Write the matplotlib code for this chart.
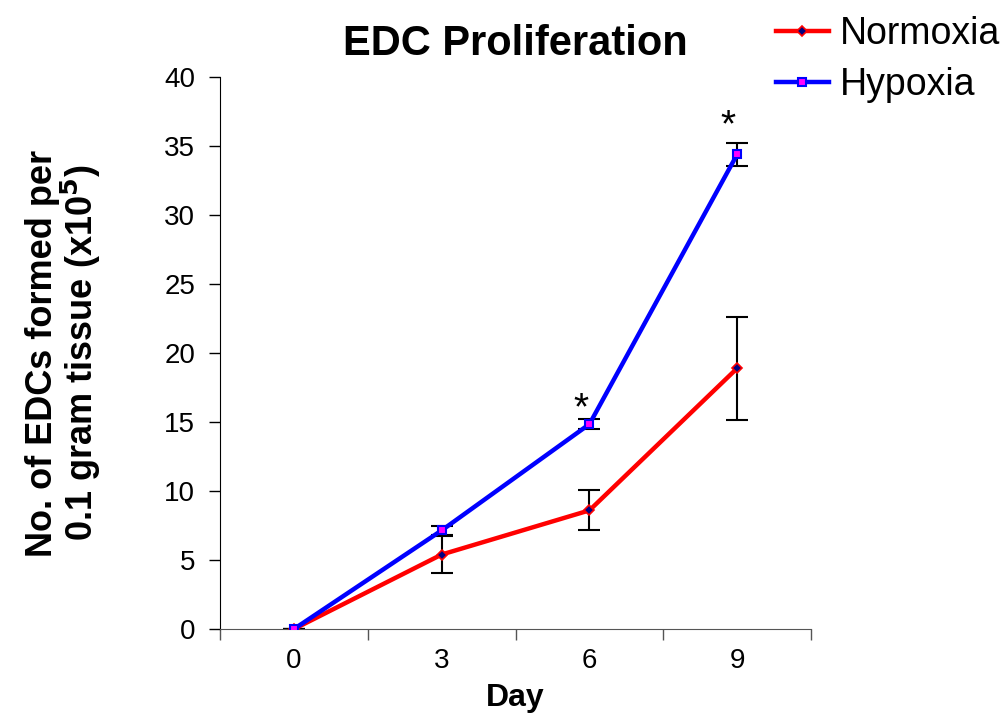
import numpy as np
import matplotlib.pyplot as plt

days = ["0", "3", "6", "9"]
normoxia = [0.0, 5.4, 8.6, 18.9]
normoxia_err = [0.0, 1.35, 1.45, 3.75]
hypoxia = [0.0, 7.15, 14.85, 34.4]
hypoxia_err = [0.0, 0.35, 0.35, 0.85]
star_days = [2, 3]  # index of days marked significant
star_y = [14.6, 35.1]

plt.rcParams['font.family'] = ['Liberation Sans', 'DejaVu Sans']

fig = plt.figure(figsize=(10.05, 7.14), dpi=100)
ax = fig.add_axes([0.219, 0.119, 0.588, 0.773])

x = np.arange(len(days))

# error bars first, lines on top
ax.errorbar(x, normoxia, yerr=normoxia_err, fmt='none', ecolor='black',
            elinewidth=1.5, capsize=8, capthick=1.5, zorder=2)
ax.errorbar(x, hypoxia, yerr=hypoxia_err, fmt='none', ecolor='black',
            elinewidth=1.5, capsize=8, capthick=1.5, zorder=2)

ax.plot(x, normoxia, color='red', lw=3.2, marker='D', markersize=5,
        markerfacecolor='navy', markeredgecolor='red', markeredgewidth=1.2,
        label='Normoxia', zorder=3)
ax.plot(x, hypoxia, color='blue', lw=3.2, marker='s', markersize=6,
        markerfacecolor='magenta', markeredgecolor='blue', markeredgewidth=1.5,
        label='Hypoxia', zorder=4)

for i, sy in zip(star_days, star_y):
    ax.text(x[i] - 0.06, sy, '*', ha='center', va='bottom', fontsize=28)

ax.set_xlim(-0.5, 3.5)
ax.set_ylim(0, 40)
ax.set_yticks(np.arange(0, 41, 5))
ax.set_xticks(x)
ax.set_xticklabels(days)
ax.set_xticks(np.arange(-0.5, 3.6, 1), minor=True)
ax.tick_params(axis='x', which='major', length=0, labelsize=20, pad=14)
ax.tick_params(axis='x', which='minor', length=8, width=1, color='#555555')
ax.tick_params(axis='y', length=8, width=1, labelsize=20, pad=10)

ax.spines['top'].set_visible(False)
ax.spines['right'].set_visible(False)
ax.spines['bottom'].set_color('#555555')

ax.set_title('EDC Proliferation', fontsize=30, fontweight='bold', pad=16)
ax.set_xlabel('Day', fontsize=23, fontweight='bold', labelpad=6)
ax.set_ylabel('No. of EDCs formed per\n0.1 gram tissue (x10$^{\\mathbf{5}}$)',
              fontsize=26, fontweight='bold', labelpad=44, linespacing=0.95)

fig.legend(loc='upper right', bbox_to_anchor=(1000 / 1005, 0.978), frameon=False,
           fontsize=27, handlelength=1.4, handletextpad=0.3, labelspacing=0.4,
           borderpad=0, borderaxespad=0)

fig.savefig('out.png', dpi=100)
